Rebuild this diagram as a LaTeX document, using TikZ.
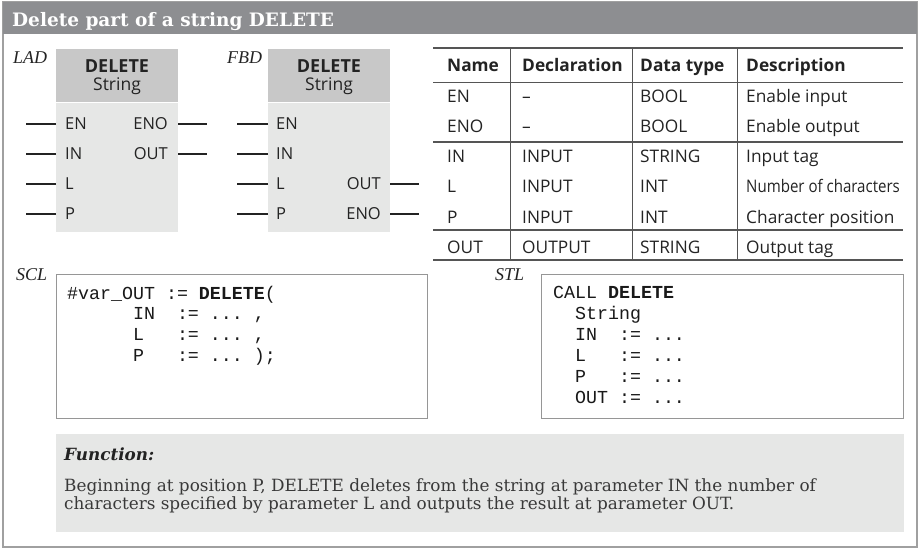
\documentclass[tikz,border=0pt]{standalone}
\usepackage{fontspec}
\usepackage{graphicx}
\setmainfont{DejaVu Serif}
\setsansfont{Open Sans}
\setmonofont{Liberation Mono}
\newfontfamily\tagfont{Liberation Serif}
\usetikzlibrary{positioning}
\definecolor{titlegray}{RGB}{141,142,145}
\definecolor{framegray}{RGB}{160,160,160}
\definecolor{headgray}{RGB}{200,200,200}
\definecolor{bodygray}{RGB}{230,231,230}
\definecolor{boxgray}{RGB}{150,150,150}
\definecolor{tabline}{RGB}{85,85,85}
\definecolor{inkgray}{RGB}{35,35,35}
\newcommand\tripledot{...}
\tikzset{
  frame/.style={draw=framegray, line width=1.2pt},
  titletext/.style={font=\bfseries\fontsize{18.5}{18.5}\selectfont, text=white, anchor=base west, inner sep=0pt},
  lang/.style={font=\tagfont\itshape\fontsize{18}{18}\selectfont, text=inkgray, anchor=base west, inner sep=0pt},
  blkhead/.style={fill=headgray, minimum width=122pt, minimum height=53pt, inner sep=0pt, anchor=north west},
  blkbody/.style={fill=bodygray, minimum width=122pt, minimum height=129pt, inner sep=0pt},
  blkname/.style={font=\sffamily\bfseries\fontsize{18}{18}\selectfont, text=inkgray, anchor=base, inner sep=0pt},
  blktype/.style={font=\sffamily\fontsize{17.5}{17.5}\selectfont, text=inkgray, anchor=base, inner sep=0pt},
  pinlbl/.style={font=\sffamily\fontsize{16.5}{16.5}\selectfont, text=inkgray, inner sep=0pt},
  pinline/.style={line width=2pt, inkgray},
  tabtxt/.style={font=\sffamily\fontsize{17.3}{17.3}\selectfont, text=inkgray, anchor=base west, inner sep=0pt},
  tabhead/.style={font=\sffamily\bfseries\fontsize{17.3}{17.3}\selectfont, text=inkgray, anchor=base west, inner sep=0pt},
  rulethick/.style={draw=tabline, line width=1.8pt},
  rulemid/.style={draw=tabline, line width=1.2pt},
  rulethin/.style={draw=tabline, line width=0.8pt},
  codebox/.style={draw=boxgray, line width=1pt, fill=white},
  code/.style={font=\ttfamily\fontsize{18.3}{18.3}\selectfont, text=black!90, anchor=base west, inner sep=0pt},
  funcbox/.style={fill=bodygray},
  functitle/.style={font=\bfseries\itshape\fontsize{16.8}{16.8}\selectfont, text=inkgray, anchor=base west, inner sep=0pt},
  functxt/.style={font=\fontsize{16.85}{16.85}\selectfont, text=inkgray!90, anchor=base west, inner sep=0pt},
}
\begin{document}
\begin{tikzpicture}[x=1pt, y=-1pt]
  \useasboundingbox (0,0) rectangle (920,548);
  % frame and title bar
  \draw[frame] (3,2) rectangle (917,547);
  \fill[titlegray] (3,2) rectangle (917,34);
  \node[titletext] (title) at (12,27) {Delete part of a string DELETE};

  % LAD box
  \node[lang] (ladtag) at (13,64) {LAD};
  \node[blkhead] (ladhead) at (56,49) {};
  \node[blkbody, below=0pt of ladhead] (ladbody) {};
  \node[blkname] (ladname) at (117,73) {DELETE};
  \node[blktype] (ladtype) at (117,91) {String};
  \foreach \p/\y in {EN/124, IN/154, L/184, P/214} {
    \coordinate (ladin\p) at (56,\y);
    \draw[pinline] (ladin\p) -- +(-30,0);
    \node[pinlbl, anchor=west] (ladlbl\p) at ([xshift=9pt]ladin\p) {\p};
  }
  \foreach \p/\y in {ENO/124, OUT/154} {
    \coordinate (ladout\p) at (178,\y);
    \draw[pinline] (ladout\p) -- +(29,0);
    \node[pinlbl, anchor=east] (ladlbl\p) at ([xshift=-10pt]ladout\p) {\p};
  }

  % FBD box
  \node[lang] (fbdtag) at (227,64) {FBD};
  \node[blkhead] (fbdhead) at (268,49) {};
  \node[blkbody, below=0pt of fbdhead] (fbdbody) {};
  \node[blkname] (fbdname) at (329,73) {DELETE};
  \node[blktype] (fbdtype) at (329,91) {String};
  \foreach \p/\y in {EN/124, IN/154, L/184, P/214} {
    \coordinate (fbdin\p) at (268,\y);
    \draw[pinline] (fbdin\p) -- +(-31,0);
    \node[pinlbl, anchor=west] (fbdlbl\p) at ([xshift=8pt]fbdin\p) {\p};
  }
  \foreach \p/\y in {OUT/184, ENO/214} {
    \coordinate (fbdout\p) at (390,\y);
    \draw[pinline] (fbdout\p) -- +(29,0);
    \node[pinlbl, anchor=east] (fbdlbl\p) at ([xshift=-9pt]fbdout\p) {\p};
  }

  % parameter table
  \draw[rulethick] (433,48) -- (903,48);
  \draw[rulethin] (433,82) -- (903,82);
  \draw[rulemid] (433,142) -- (903,142);
  \draw[rulemid] (433,230) -- (903,230);
  \draw[rulemid] (433,260) -- (903,260);
  \foreach \x in {510,632,737}
    \draw[rulethin] (\x,48) -- (\x,260);
  \foreach \x/\h [count=\c] in {447/Name, 522/Declaration, 640/Data type, 746/Description}
    \node[tabhead] (th\c) at (\x,72) {\h};
  \foreach \nm/\dc/\dt/\ds/\y [count=\r] in {EN/--/BOOL/Enable input/103,
      ENO/--/BOOL/Enable output/133, IN/INPUT/STRING/Input tag/163,
      L/INPUT/INT/{\scalebox{0.87}[1]{Number of characters}}/193,
      P/INPUT/INT/Character position/223, OUT/OUTPUT/STRING/Output tag/253} {
    \node[tabtxt] (tn\r) at (447,\y) {\nm};
    \node[tabtxt] (tc\r) at (522,\y) {\dc};
    \node[tabtxt] (tt\r) at (640,\y) {\dt};
    \node[tabtxt] (td\r) at (746,\y) {\ds};
  }

  % SCL
  \node[lang] (scltag) at (16,280) {SCL};
  \draw[codebox] (56,274) rectangle (427,418);
  \foreach \ln [count=\i from 0] in {{\#var\_OUT~:=~\textbf{DELETE}(},
      {~~~~~~IN~~:=~\tripledot~,}, {~~~~~~L~~~:=~\tripledot~,}, {~~~~~~P~~~:=~\tripledot~);}}
    \node[code] (scl\i) at (67,{299+20.7*\i}) {\ln};

  % STL
  \node[lang] (stltag) at (495,280) {STL};
  \draw[codebox] (541,274) rectangle (903,418);
  \foreach \ln [count=\i from 0] in {{CALL~\textbf{DELETE}}, {~~String},
      {~~IN~~:=~\tripledot}, {~~L~~~:=~\tripledot}, {~~P~~~:=~\tripledot}, {~~OUT~:=~\tripledot}}
    \node[code] (stl\i) at (553,{298+21*\i}) {\ln};

  % function
  \fill[funcbox] (56,434) rectangle (904,532);
  \node[functitle] (functitle) at (64,460) {Function:};
  \node[functxt] (func1) at (64,491) {Beginning at position P, DELETE deletes from the string at parameter IN the number of};
  \node[functxt] (func2) at (64,509) {characters specified by parameter L and outputs the result at parameter OUT.};
\end{tikzpicture}
\end{document}
